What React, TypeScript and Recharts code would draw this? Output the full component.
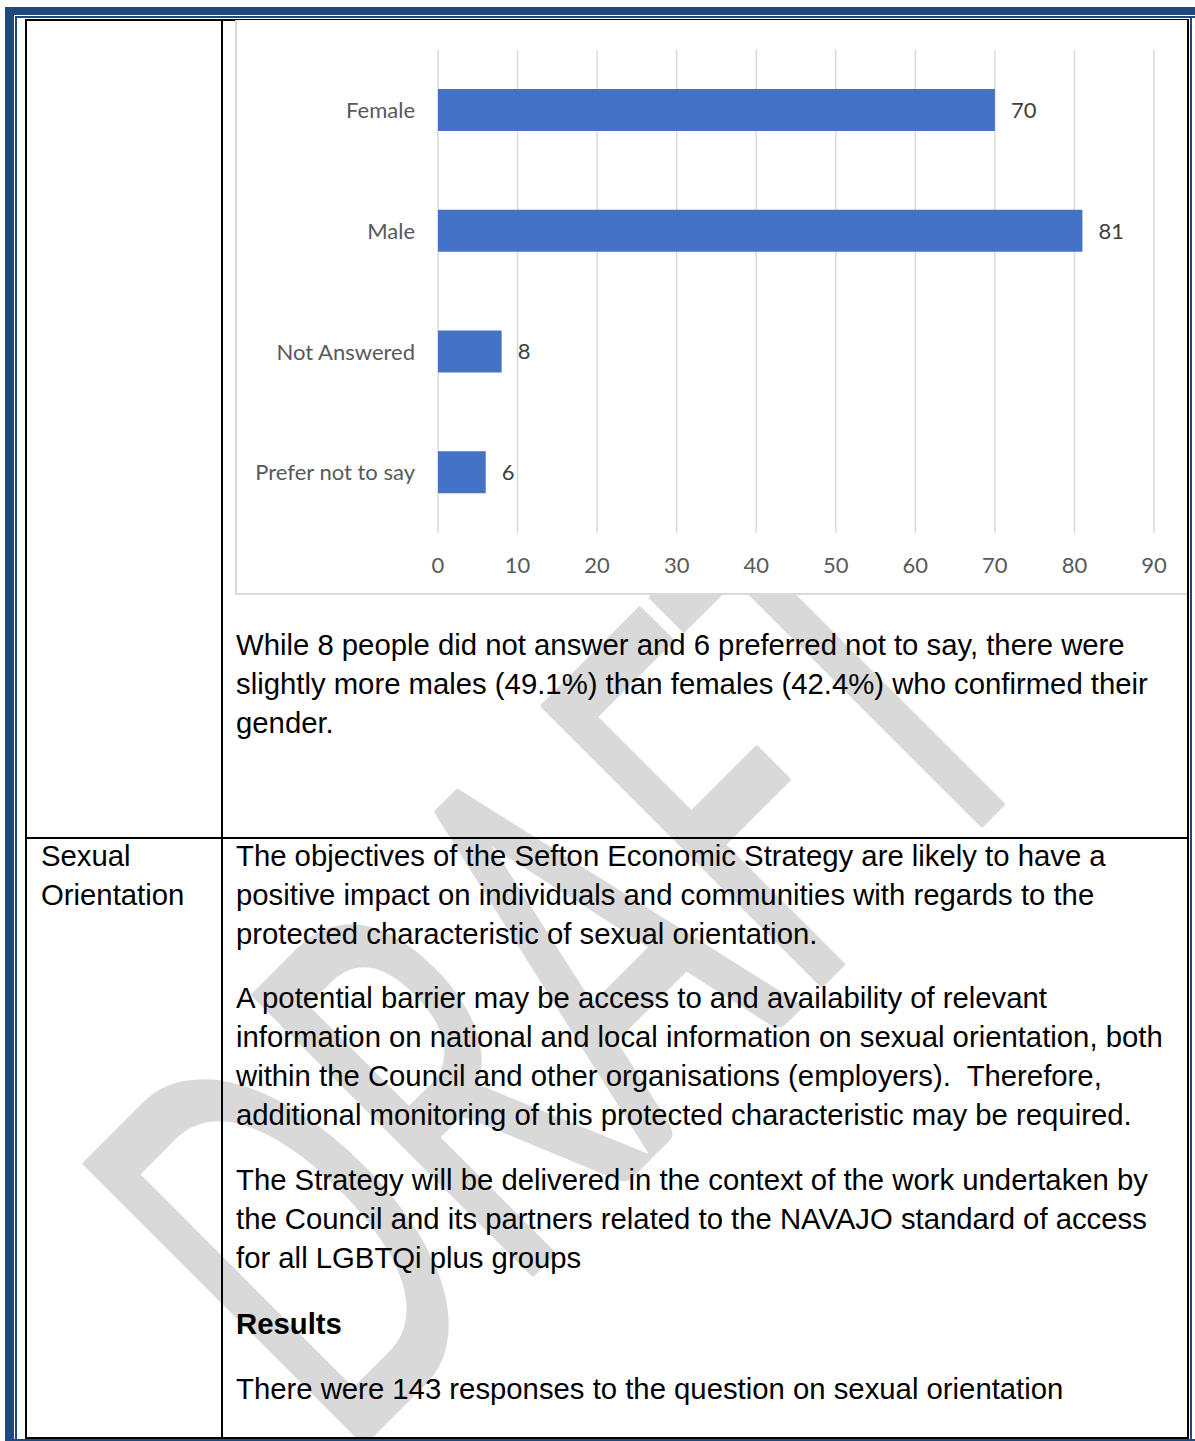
import React from 'react';
import { BarChart, Bar, XAxis, YAxis, CartesianGrid, LabelList } from 'recharts';

const categories = ['Female', 'Male', 'Not Answered', 'Prefer not to say'];
const responses = [70, 81, 8, 6];
const xTicks = [0, 10, 20, 30, 40, 50, 60, 70, 80, 90];

const genderText = [
  'While 8 people did not answer and 6 preferred not to say, there were',
  'slightly more males (49.1%) than females (42.4%) who confirmed their',
  'gender.',
];
const orientationLines = [
  { text: 'The objectives of the Sefton Economic Strategy are likely to have a', y: 857 },
  { text: 'positive impact on individuals and communities with regards to the', y: 896 },
  { text: 'protected characteristic of sexual orientation.', y: 935 },
  { text: 'A potential barrier may be access to and availability of relevant', y: 999 },
  { text: 'information on national and local information on sexual orientation, both', y: 1038 },
  { text: 'within the Council and other organisations (employers).  Therefore,', y: 1077 },
  { text: 'additional monitoring of this protected characteristic may be required.', y: 1116 },
  { text: 'The Strategy will be delivered in the context of the work undertaken by', y: 1181 },
  { text: 'the Council and its partners related to the NAVAJO standard of access', y: 1220 },
  { text: 'for all LGBTQi plus groups', y: 1259 },
  { text: 'Results', y: 1325, bold: true },
  { text: 'There were 143 responses to the question on sexual orientation', y: 1390 },
];

const chartData = categories.map((name, i) => ({ name, value: responses[i] }));

const BLUE = '#1F497D';
const abs = (left: number, top: number, width: number, height: number, bg: string): React.CSSProperties => ({
  position: 'absolute', left, top, width, height, background: bg,
});

const lineStyle = (y: number, bold?: boolean): React.CSSProperties => ({
  position: 'absolute',
  left: 236,
  top: y - 21,
  whiteSpace: 'pre',
  fontFamily: '"Liberation Sans", Arial, sans-serif',
  fontSize: 29.3,
  lineHeight: '39px',
  fontWeight: bold ? 700 : 400,
  color: '#000',
});

function GenderChart() {
  return (
    <div style={{ position: 'absolute', left: 235, top: 20, width: 950, height: 573, background: '#fff', borderLeft: '2px solid #d9d9d9', borderBottom: '2px solid #d9d9d9' }}>
      <BarChart
        width={950}
        height={573}
        layout="vertical"
        data={chartData}
        margin={{ top: 30, right: 33, bottom: 0, left: 0 }}
        barSize={42}
      >
        <CartesianGrid horizontal={false} stroke="#d9d9d9" strokeWidth={1.5} />
        <XAxis
          type="number"
          domain={[0, 90]}
          ticks={xTicks}
          interval={0}
          height={60}
          axisLine={false}
          tickLine={false}
          tickMargin={18}
          tick={{ fill: '#595959', fontSize: 22, fontFamily: 'Lato' }}
        />
        <YAxis
          type="category"
          dataKey="name"
          width={201}
          axisLine={false}
          tickLine={false}
          tickMargin={17}
          tick={{ fill: '#595959', fontSize: 22, fontFamily: 'Lato' }}
        />
        <Bar dataKey="value" fill="#4472C4" isAnimationActive={false}>
          <LabelList dataKey="value" position="right" offset={16} fill="#404040" fontSize={22} fontFamily="Lato" />
        </Bar>
      </BarChart>
    </div>
  );
}

export default function App() {
  return (
    <div style={{ position: 'relative', width: 1195, height: 1441, background: '#fff', overflow: 'hidden' }}>
      <style>{'body{margin:0}'}</style>
      {/* watermark */}
      <svg width={1195} height={1441} style={{ position: 'absolute', left: 0, top: 0 }}>
        <text
          x={0}
          y={0}
          transform="translate(343,1463) rotate(-45)"
          fontSize={549}
          fontFamily="Lato"
          fill="#d9d9d9"
          stroke="#d9d9d9"
          strokeWidth={6}
          strokeLinejoin="round"
          textLength={1010}
          lengthAdjust="spacingAndGlyphs"
        >
          DRAFT
        </text>
      </svg>
      {/* page frame */}
      <div style={abs(5, 7, 1190, 8, BLUE)} />
      <div style={abs(5, 7, 9, 1434, BLUE)} />
      <div style={abs(15, 16, 1180, 1.5, BLUE)} />
      <div style={abs(15, 16, 1.5, 1425, BLUE)} />
      <div style={abs(1190, 16, 1.5, 1425, BLUE)} />
      <div style={abs(5, 1439, 1190, 2, BLUE)} />
      {/* table */}
      <div style={abs(25, 19, 1164, 2, '#000')} />
      <div style={abs(25, 19, 2, 1420, '#000')} />
      <div style={abs(221, 19, 2, 1420, '#000')} />
      <div style={abs(1187, 19, 2, 1420, '#000')} />
      <div style={abs(25, 837, 1164, 2, '#000')} />
      <div style={abs(25, 1437, 1164, 2, '#000')} />
      <GenderChart />
      {genderText.map((t, i) => (
        <div key={t} style={lineStyle(646 + i * 39)}>{t}</div>
      ))}
      <div style={{ ...lineStyle(857), left: 41 }}>Sexual</div>
      <div style={{ ...lineStyle(896), left: 41 }}>Orientation</div>
      {orientationLines.map((l) => (
        <div key={l.text} style={lineStyle(l.y, l.bold)}>{l.text}</div>
      ))}
    </div>
  );
}
